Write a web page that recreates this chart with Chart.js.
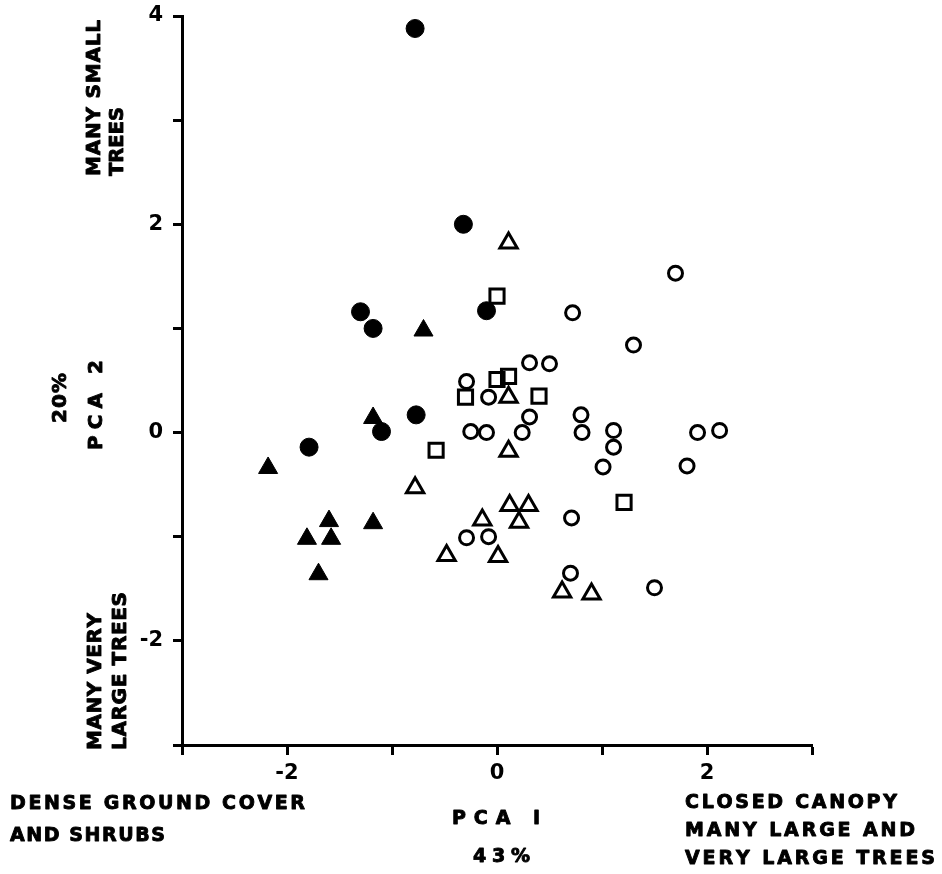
<!DOCTYPE html>
<html>
<head>
<meta charset="utf-8">
<title>PCA habitat plot</title>
<script src="https://cdn.jsdelivr.net/npm/chart.js@4.4.1/dist/chart.umd.min.js"></script>
<style>
  html, body { margin: 0; padding: 0; background: #fff; }
  canvas { display: block; }
</style>
</head>
<body>
<canvas id="pca" width="942" height="874"></canvas>
<script>
/* ============================================================
   PCA 1 vs PCA 2 — site scores
   ============================================================ */

const solidCircles = [
  [-0.78, 3.88], [-0.32, 2.00], [-1.30, 1.16], [-1.18, 1.00],
  [-0.10, 1.17], [-0.77, 0.17], [-1.10, 0.01], [-1.79, -0.14]
];

const solidTriangles = [
  [-0.70, 0.98], [-1.18, 0.14], [-2.18, -0.34], [-1.60, -0.85],
  [-1.81, -1.02], [-1.58, -1.02], [-1.18, -0.87], [-1.70, -1.36]
];

const openSquares = [
  [0.00, 1.31], [0.00, 0.51], [0.11, 0.54], [-0.30, 0.34],
  [0.40, 0.35], [-0.58, -0.17], [1.21, -0.67]
];

const openTriangles = [
  [0.11, 1.82], [0.11, 0.34], [0.11, -0.18], [-0.78, -0.53],
  [0.12, -0.70], [0.30, -0.70], [0.21, -0.86], [-0.14, -0.84],
  [-0.48, -1.18], [0.01, -1.19], [0.62, -1.53], [0.90, -1.55]
];

const openCircles = [
  [1.70, 1.53], [0.72, 1.15], [1.30, 0.84], [0.31, 0.67], [0.50, 0.66],
  [-0.29, 0.49], [-0.08, 0.34], [0.31, 0.15], [-0.25, 0.01], [-0.10, 0.00],
  [0.24, 0.00], [0.80, 0.17], [0.81, 0.00], [1.11, 0.02], [1.11, -0.14],
  [1.01, -0.33], [1.91, 0.00], [2.12, 0.02], [1.81, -0.32], [0.71, -0.82],
  [-0.29, -1.01], [-0.08, -1.00], [0.70, -1.35], [1.50, -1.49]
];

// only these ticks carry a number
const xLabeled = [-2, 0, 2];
const yLabeled = [-2, 0, 2, 4];

const FONT = "'DejaVu Sans', 'Liberation Sans', Arial, sans-serif";

// ── Annotation texts (pixel placement on the page) ──
const sideNotes = [
  { text: "MANY SMALL",  x: 92.5,  y: 176, len: 156 },
  { text: "TREES",       x: 115.5, y: 176, len: 69 },
  { text: "20%",         x: 58.5,  y: 423, len: 50 },
  { text: "PCA 2",       x: 94.5,  y: 450, len: 90 },
  { text: "MANY VERY",   x: 93.5,  y: 750, len: 137 },
  { text: "LARGE TREES", x: 119,   y: 750, len: 158 },
];

const bottomNotes = [
  { text: "DENSE GROUND COVER", x: 10,  y: 802, len: 295 },
  { text: "AND SHRUBS",         x: 10,  y: 834, len: 155 },
  { text: "PCA I",              x: 452, y: 817, len: 88 },
  { text: "43%",                x: 473, y: 855, len: 57 },
  { text: "CLOSED CANOPY",      x: 685, y: 801, len: 212 },
  { text: "MANY LARGE AND",     x: 685, y: 829, len: 230 },
  { text: "VERY LARGE TREES",   x: 685, y: 857, len: 250 },
];

// draws text letter by letter so it spans `len` px, vertically centred on caps
function spacedText(ctx, text, len, size) {
  ctx.font = `bold ${size}px ${FONT}`;
  ctx.textAlign = "left";
  ctx.textBaseline = "alphabetic";
  ctx.lineWidth = 0.9;
  ctx.lineJoin = "round";
  const chars = [...text];
  const widths = chars.map(c => ctx.measureText(c).width);
  const raw = widths.reduce((a, b) => a + b, 0);
  let gap = chars.length > 1 ? (len - raw) / (chars.length - 1) : 0;
  let sx = 1;
  if (gap < 0) { sx = len / raw; gap = 0; }
  const capHalf = size * 0.73 / 2;
  ctx.save();
  ctx.scale(sx, 1);
  let cx = 0;
  chars.forEach((c, i) => {
    ctx.fillText(c, cx, capHalf);
    ctx.strokeText(c, cx, capHalf);
    cx += widths[i] + gap;
  });
  ctx.restore();
}

const notesPlugin = {
  id: "notes",
  afterDraw(chart) {
    const ctx = chart.ctx;
    ctx.save();
    ctx.fillStyle = "#000";
    ctx.strokeStyle = "#000";
    sideNotes.forEach(n => {
      ctx.save();
      ctx.translate(n.x, n.y);
      ctx.rotate(-Math.PI / 2);
      spacedText(ctx, n.text, n.len, 20);
      ctx.restore();
    });
    bottomNotes.forEach(n => {
      ctx.save();
      ctx.translate(n.x, n.y);
      spacedText(ctx, n.text, n.len, 19);
      ctx.restore();
    });
    ctx.restore();
  }
};

const toXY = pts => pts.map(([x, y]) => ({ x, y }));

const groups = [
  { name: "open circle",    pts: openCircles,    style: "circle",   r: 7,   bw: 3, filled: false },
  { name: "open triangle",  pts: openTriangles,  style: "triangle", r: 10,  bw: 3, filled: false },
  { name: "open square",    pts: openSquares,    style: "rect",     r: 10,  bw: 3, filled: false },
  { name: "solid triangle", pts: solidTriangles, style: "triangle", r: 11,  bw: 1, filled: true },
  { name: "solid circle",   pts: solidCircles,   style: "circle",   r: 9,   bw: 1, filled: true },
];

const tickFont = { family: FONT, size: 21, weight: "bold" };

new Chart(document.getElementById("pca"), {
  type: "scatter",
  data: {
    datasets: groups.map(g => ({
      label: g.name,
      data: toXY(g.pts),
      pointStyle: g.style,
      pointRadius: g.r,
      pointHoverRadius: g.r,
      pointBorderWidth: g.bw,
      pointBorderColor: "#000",
      pointBackgroundColor: g.filled ? "#000" : "rgba(0,0,0,0)",
      clip: false,
    }))
  },
  options: {
    responsive: false,
    animation: false,
    devicePixelRatio: 1,
    layout: { padding: { top: 16, right: 130, bottom: 0, left: 0 } },
    plugins: {
      legend: { display: false },
      tooltip: { enabled: false },
    },
    scales: {
      x: {
        type: "linear",
        position: "bottom",
        min: -3,
        max: 3,
        afterFit: s => { s.height = 129; s.paddingLeft = 0; s.paddingRight = 0; },
        ticks: {
          stepSize: 1,
          autoSkip: false,
          maxRotation: 0,
          padding: 6,
          color: "#000",
          font: tickFont,
          callback: v => xLabeled.includes(v) ? String(v) : ""
        },
        grid: {
          drawOnChartArea: false,
          drawTicks: true,
          tickLength: 10,
          tickWidth: 3,
          tickColor: "#000"
        },
        border: { display: true, color: "#000", width: 3 }
      },
      y: {
        type: "linear",
        min: -3,
        max: 4,
        afterFit: s => { s.width = 182; s.paddingTop = 0; s.paddingBottom = 0; },
        ticks: {
          stepSize: 1,
          autoSkip: false,
          padding: 10,
          color: "#000",
          font: tickFont,
          callback: v => yLabeled.includes(v) ? String(v) : ""
        },
        grid: {
          drawOnChartArea: false,
          drawTicks: true,
          tickLength: 9,
          tickWidth: 3,
          tickColor: "#000"
        },
        border: { display: true, color: "#000", width: 3 }
      }
    }
  },
  plugins: [notesPlugin]
});
</script>
</body>
</html>
